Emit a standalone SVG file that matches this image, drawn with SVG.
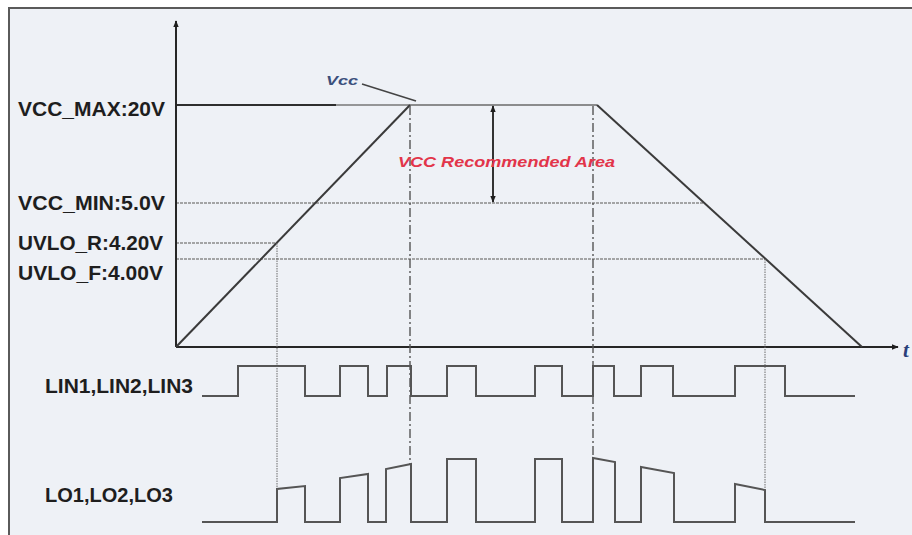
<svg xmlns="http://www.w3.org/2000/svg" width="912" height="535" viewBox="0 0 912 535">
<defs>
<style>
.lbl{font-family:"Liberation Sans",Arial,sans-serif;font-weight:bold;font-size:21px;fill:#1e1e1e}
.axis{stroke:#262626;stroke-width:2;fill:none}
.curve{stroke:#3a3a3a;stroke-width:2;fill:none}
.lvl{stroke:#8a8a8a;stroke-width:1.6;fill:none;stroke-dasharray:3 1}
.vdot{stroke:#6a6a6a;stroke-width:1;fill:none;stroke-dasharray:1.5 1}
.vdash{stroke:#555;stroke-width:1.4;fill:none;stroke-dasharray:9 3 2 3}
.wave{stroke:#555;stroke-width:2;fill:none;stroke-linejoin:miter}
</style>
<marker id="ah" viewBox="0 0 10 10" refX="9" refY="5" markerWidth="7" markerHeight="7" orient="auto-start-reverse" markerUnits="userSpaceOnUse">
<path d="M0,1 L10,5 L0,9 Z" fill="#1e1e1e"/>
</marker>
</defs>
<rect x="0" y="0" width="912" height="535" fill="#ffffff"/>
<rect x="9" y="8" width="910" height="540" fill="#eef1f6" stroke="#5a5a5a" stroke-width="2"/>

<g id="levels">
<line x1="176" y1="105" x2="336" y2="105" stroke="#2e2e2e" stroke-width="2"/>
<line x1="336" y1="105" x2="410" y2="105" stroke="#777" stroke-width="1.6"/>
<line x1="410" y1="105" x2="597" y2="105" stroke="#6a6a6a" stroke-width="1.6"/>
<line class="lvl" x1="176" y1="203" x2="704" y2="203"/>
<line class="lvl" x1="176" y1="243" x2="276" y2="243"/>
<line class="lvl" x1="176" y1="259" x2="765" y2="259"/>
</g>

<g id="axes">
<line class="axis" x1="176" y1="347" x2="176" y2="21" marker-end="url(#ah)"/>
<line class="axis" x1="176" y1="347" x2="898" y2="347" marker-end="url(#ah)"/>
<text x="903" y="357" font-family="Liberation Serif,serif" font-style="italic" font-weight="bold" font-size="21" fill="#2a3f7a">t</text>
</g>

<g id="vcc-curve">
<polyline class="curve" points="176,347 410,105"/>
<polyline class="curve" points="597,105 862,347"/>
</g>

<g id="guides">
<line class="vdot" x1="277" y1="243" x2="277" y2="489"/>
<line class="vdot" x1="765" y1="259" x2="765" y2="490"/>
<line class="vdash" x1="410" y1="106" x2="410" y2="464"/>
<line class="vdash" x1="593" y1="106" x2="593" y2="458"/>
</g>

<g id="recommended">
<line x1="493" y1="106" x2="493" y2="202" stroke="#1e1e1e" stroke-width="1.8" marker-start="url(#ah)" marker-end="url(#ah)"/>
<text x="398" y="167" font-family="Liberation Sans,Arial,sans-serif" font-style="italic" font-weight="bold" font-size="15" fill="#e2354a" textLength="217" lengthAdjust="spacingAndGlyphs">VCC Recommended Area</text>
</g>

<g id="vcc-label">
<text x="326" y="85" font-family="Liberation Sans,Arial,sans-serif" font-style="italic" font-weight="bold" font-size="12" fill="#3b4f7c" textLength="32" lengthAdjust="spacingAndGlyphs">Vcc</text>
<line x1="362" y1="84" x2="416" y2="101" stroke="#444" stroke-width="1.5"/>
</g>

<g id="labels">
<text class="lbl" x="18" y="116" textLength="147" lengthAdjust="spacingAndGlyphs">VCC_MAX:20V</text>
<text class="lbl" x="18" y="210" textLength="147" lengthAdjust="spacingAndGlyphs">VCC_MIN:5.0V</text>
<text class="lbl" x="18" y="250" textLength="145" lengthAdjust="spacingAndGlyphs">UVLO_R:4.20V</text>
<text class="lbl" x="18" y="280" textLength="145" lengthAdjust="spacingAndGlyphs">UVLO_F:4.00V</text>
<text class="lbl" x="45" y="393" textLength="148" lengthAdjust="spacingAndGlyphs">LIN1,LIN2,LIN3</text>
<text class="lbl" x="45" y="502" textLength="128" lengthAdjust="spacingAndGlyphs">LO1,LO2,LO3</text>
</g>

<g id="lin-wave">
<polyline class="wave" points="202,396 238,396 238,366 305,366 305,396 340,396 340,366 368,366 368,396 387,396 387,366 411,366 411,396 447,396 447,366 476,366 476,396 535,396 535,366 562,366 562,396 593,396 593,366 614,366 614,396 641,396 641,366 673,366 673,396 735,396 735,366 785,366 785,396 855,396"/>
</g>

<g id="lo-wave">
<polyline class="wave" points="202,522 277,522 277,489 305,486 305,522 340,522 340,478 368,474 368,522 386,522 386,469 411,464 411,522 447,522 447,459 476,459 476,522 535,522 535,459 562,459 562,522 593,522 593,458 615,462 615,522 641,522 641,467 674,473 674,522 735,522 735,484 765,490 765,522 855,522"/>
</g>
</svg>
